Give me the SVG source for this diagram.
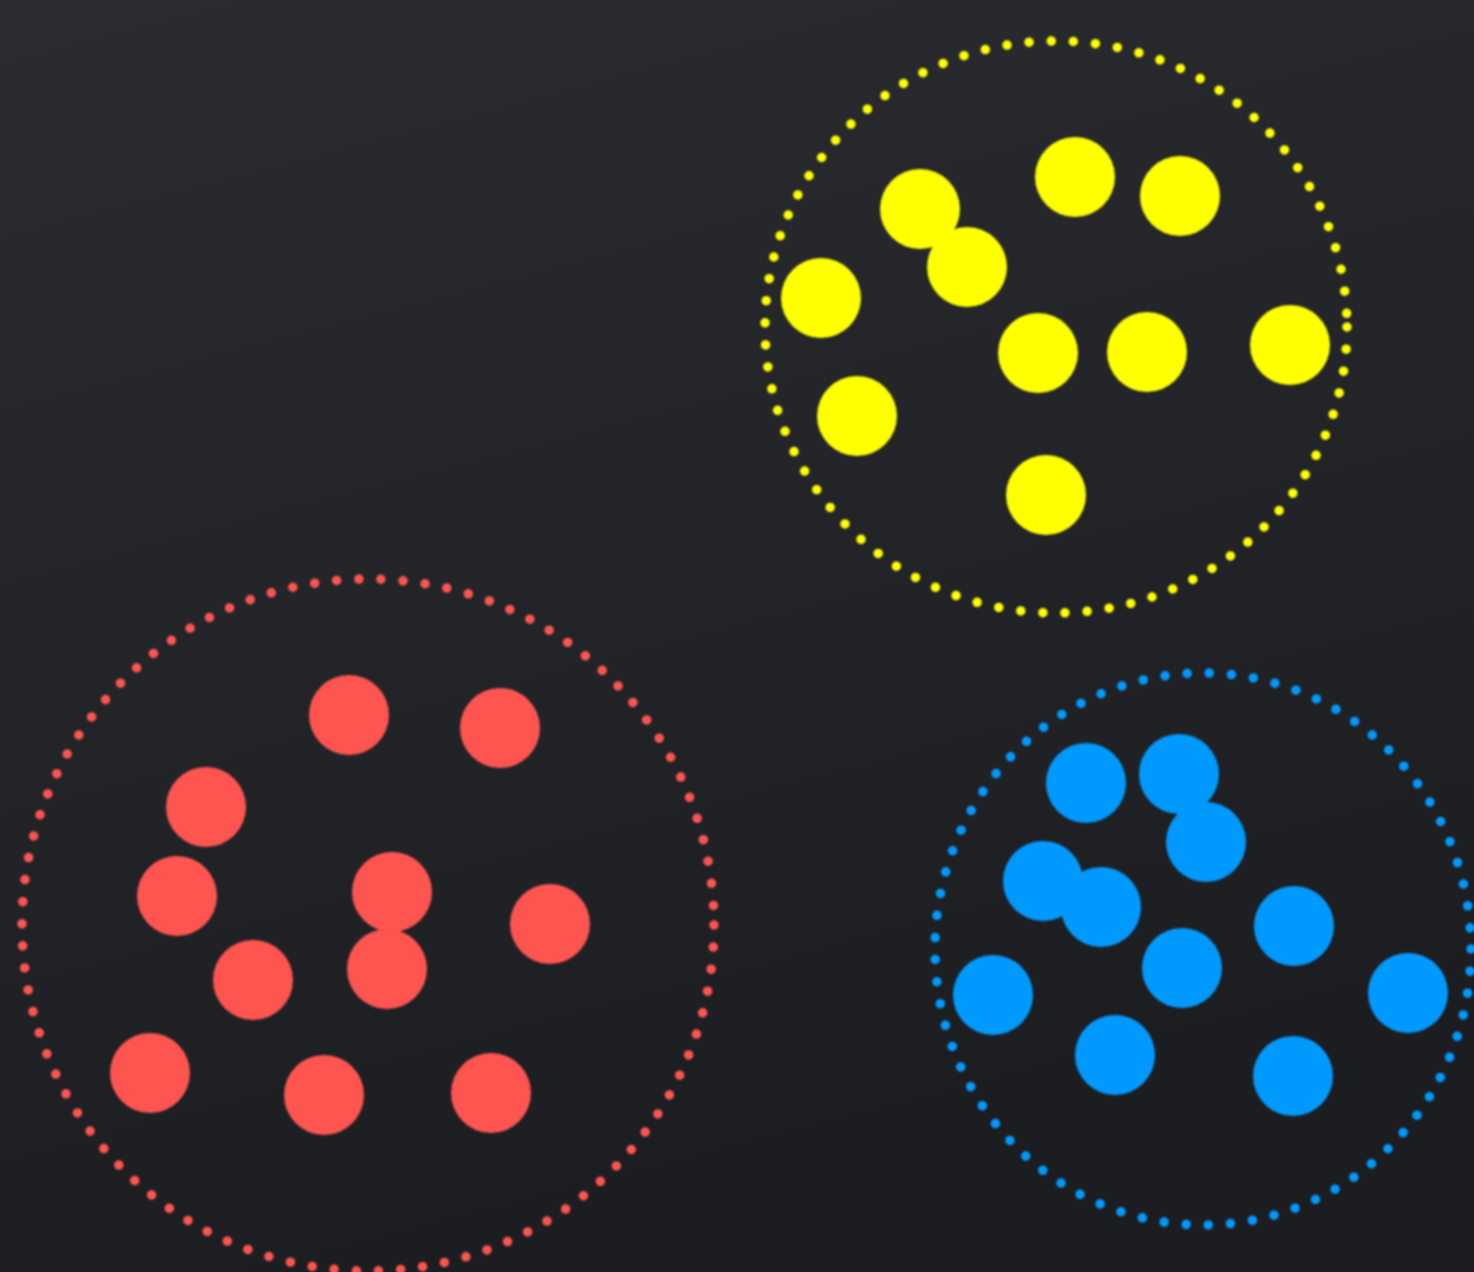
<svg xmlns="http://www.w3.org/2000/svg" width="1474" height="1272" viewBox="0 0 1474 1272">
<defs>
<linearGradient id="bg" x1="0" y1="0" x2="0.3" y2="1">
<stop offset="0" stop-color="#2a2c30"/>
<stop offset="1" stop-color="#1c1d21"/>
</linearGradient>
<filter id="soft" x="-10%" y="-10%" width="120%" height="120%"><feGaussianBlur stdDeviation="0.9"/></filter>
</defs>
<style>
.ring{fill:none;stroke-width:9.5;stroke-linecap:round;stroke-dasharray:0 22.2}
.y{fill:#ffff00}.r{fill:#ff5551}.b{fill:#009aff}
.yr{stroke:#ffff00}.rr{stroke:#ff5551}.br{stroke:#009aff}
</style>
<rect width="1474" height="1272" fill="url(#bg)"/>
<g id="cluster-yellow" filter="url(#soft)">
<ellipse class="ring yr" cx="1056" cy="327" rx="291" ry="286"/>
<circle class="y" cx="920" cy="209" r="40"/>
<circle class="y" cx="967" cy="267" r="40"/>
<circle class="y" cx="1075" cy="177" r="40"/>
<circle class="y" cx="1180" cy="196" r="40"/>
<circle class="y" cx="821" cy="298" r="40"/>
<circle class="y" cx="1038" cy="353" r="40"/>
<circle class="y" cx="1147" cy="352" r="40"/>
<circle class="y" cx="1290" cy="345" r="40"/>
<circle class="y" cx="857" cy="416" r="40"/>
<circle class="y" cx="1046" cy="495" r="40"/>
</g>
<g id="cluster-red" filter="url(#soft)">
<circle class="ring rr" cx="368" cy="925" r="346"/>
<circle class="r" cx="349" cy="715" r="40"/>
<circle class="r" cx="500" cy="728" r="40"/>
<circle class="r" cx="206" cy="807" r="40"/>
<circle class="r" cx="177" cy="896" r="40"/>
<circle class="r" cx="392" cy="892" r="40"/>
<circle class="r" cx="550" cy="924" r="40"/>
<circle class="r" cx="253" cy="980" r="40"/>
<circle class="r" cx="387" cy="969" r="40"/>
<circle class="r" cx="150" cy="1073" r="40"/>
<circle class="r" cx="324" cy="1095" r="40"/>
<circle class="r" cx="491" cy="1093" r="40"/>
</g>
<g id="cluster-blue" filter="url(#soft)">
<ellipse class="ring br" cx="1203" cy="949" rx="268" ry="276"/>
<circle class="b" cx="1086" cy="783" r="40"/>
<circle class="b" cx="1179" cy="774" r="40"/>
<circle class="b" cx="1206" cy="842" r="40"/>
<circle class="b" cx="1043" cy="881" r="40"/>
<circle class="b" cx="1101" cy="907" r="40"/>
<circle class="b" cx="1294" cy="926" r="40"/>
<circle class="b" cx="1182" cy="968" r="40"/>
<circle class="b" cx="993" cy="995" r="40"/>
<circle class="b" cx="1408" cy="993" r="40"/>
<circle class="b" cx="1115" cy="1055" r="40"/>
<circle class="b" cx="1293" cy="1076" r="40"/>
</g>
</svg>
